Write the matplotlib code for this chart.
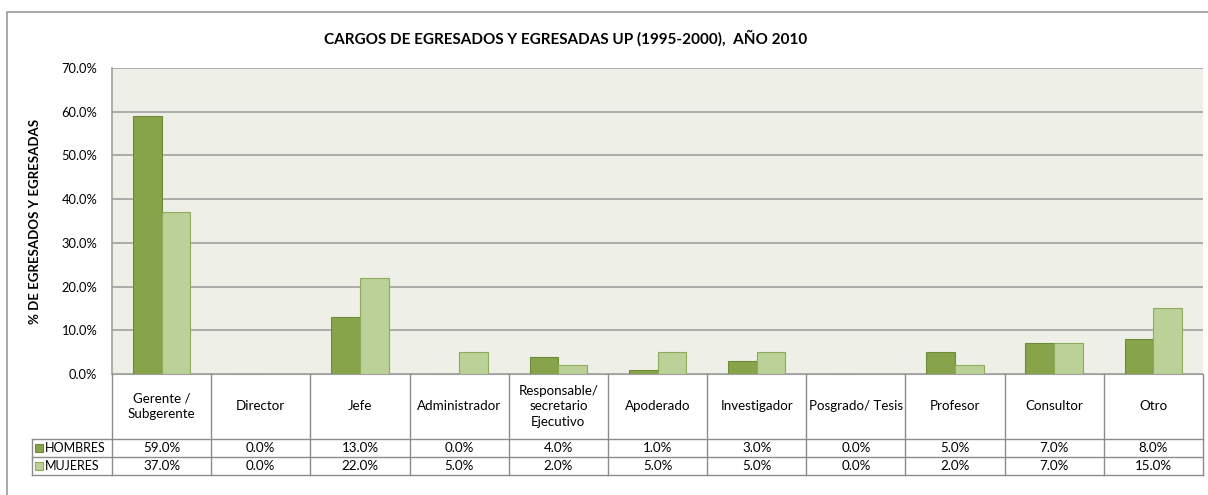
import numpy as np
import matplotlib.pyplot as plt
import matplotlib.ticker as mticker

plt.rcParams['font.family'] = ['Lato', 'DejaVu Sans']

categorias = ['Gerente /\nSubgerente', 'Director', 'Jefe', 'Administrador',
              'Responsable/\nsecretario\nEjecutivo', 'Apoderado', 'Investigador',
              'Posgrado/ Tesis', 'Profesor', 'Consultor', 'Otro']
hombres = [59.0, 0.0, 13.0, 0.0, 4.0, 1.0, 3.0, 0.0, 5.0, 7.0, 8.0]
mujeres = [37.0, 0.0, 22.0, 5.0, 2.0, 5.0, 5.0, 0.0, 2.0, 7.0, 15.0]
series = ['HOMBRES', 'MUJERES']
yticks = [0, 10, 20, 30, 40, 50, 60, 70]

C_H, E_H = '#87A44B', '#6F8B3A'
C_M, E_M = '#BBD197', '#8DAB5A'
GRID = '#A0A0A0'
FS = 9.6

W, H = 1208, 495
fig = plt.figure(figsize=(W / 100, H / 100), dpi=100)

# zone du graphique en pixels
x0, x1, ytop, ybot = 112, 1203, 68, 374
ax = fig.add_axes([x0 / W, 1 - ybot / H, (x1 - x0) / W, (ybot - ytop) / H])
ax.set_facecolor('#EEF0E7')
n = len(categorias)
x = np.arange(n)
bw = 0.29
ax.bar(x - bw / 2, hombres, bw, color=C_H, edgecolor=E_H, linewidth=0.8, zorder=3)
ax.bar(x + bw / 2, mujeres, bw, color=C_M, edgecolor=E_M, linewidth=0.8, zorder=3)
ax.set_xlim(-0.5, n - 0.5)
ax.set_ylim(0, 70)
ax.set_yticks(yticks)
ax.yaxis.set_major_formatter(mticker.FuncFormatter(lambda v, _: f"{v:.1f}%"))
ax.tick_params(axis='y', length=0, labelsize=9.3, pad=10.5)
ax.set_xticks([])
ax.grid(axis='y', color=GRID, linewidth=1.2, zorder=0)
for s in ['top', 'right']:
    ax.spines[s].set_visible(False)
ax.spines['left'].set_color(GRID)
ax.spines['bottom'].set_color(GRID)
ax.spines['left'].set_linewidth(1.2)

fig.text(566 / W, 1 - 38 / H, 'CARGOS DE EGRESADOS Y EGRESADAS UP (1995-2000),  AÑO 2010',
         ha='center', va='center', fontsize=11, fontweight='bold')
fig.text(35 / W, 1 - 221 / H, '% DE EGRESADOS Y EGRESADAS', rotation=90,
         ha='center', va='center', fontsize=9.5, fontweight='bold')

# tableau de données dessiné en pixels
tb = fig.add_axes([0, 0, 1, 1], facecolor='none')
tb.set_xlim(0, W)
tb.set_ylim(H, 0)
tb.axis('off')

# cadre extérieur
tb.plot([7, 7, W + 5], [H + 5, 12, 12], color='#9A9A9A', lw=1.2)

colw = (x1 - x0) / n
r0, r1, r2, r3 = ybot, 439, 457, 475
lc = '#8C8C8C'
for i in range(n + 1):
    xi = x0 + i * colw
    tb.plot([xi, xi], [r0, r3], color=lc, lw=1)
tb.plot([32, 32], [r1, r3], color=lc, lw=1)
for yy in [r1, r2, r3]:
    tb.plot([32, x1], [yy, yy], color=lc, lw=1)

for i, cat in enumerate(categorias):
    cx = x0 + (i + 0.5) * colw
    tb.text(cx, (r0 + r1) / 2, cat, ha='center', va='center', fontsize=FS,
            linespacing=1.35)
    tb.text(cx, (r1 + r2) / 2, f"{hombres[i]:.1f}%", ha='center', va='center', fontsize=FS)
    tb.text(cx, (r2 + r3) / 2, f"{mujeres[i]:.1f}%", ha='center', va='center', fontsize=FS)

for (ya, yb), nom, c, e in [((r1, r2), series[0], C_H, E_H), ((r2, r3), series[1], C_M, E_M)]:
    ym = (ya + yb) / 2
    tb.add_patch(plt.Rectangle((35, ym - 4), 8, 8, facecolor=c, edgecolor=e, lw=0.8))
    tb.text(44.5, ym, nom, ha='left', va='center', fontsize=9)

plt.savefig('out.png', dpi=100)
